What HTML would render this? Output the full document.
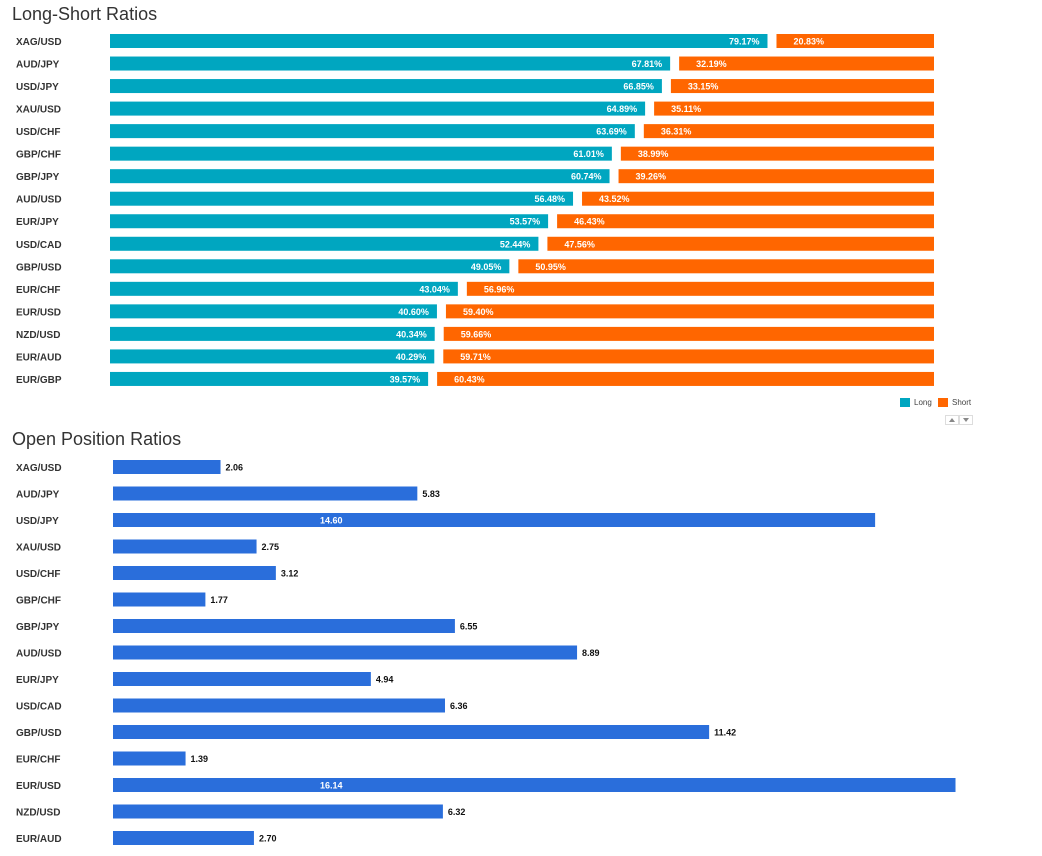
<!DOCTYPE html>
<html><head><meta charset="utf-8"><style>
body{margin:0;background:#fff;width:1042px;height:851px;overflow:hidden;font-family:"Liberation Sans",Arial,sans-serif}
svg text{font-family:"Liberation Sans",Arial,sans-serif}
</style></head><body>
<svg id="c" width="1042" height="851">
<text x="12" y="20" font-size="18" fill="#333">Long-Short Ratios</text>
<text x="12" y="445" font-size="18" fill="#333">Open Position Ratios</text>
<g>
<rect x="900" y="398" width="10" height="9" fill="#00a6c0"/>
<text x="914" y="405" font-size="8" fill="#444">Long</text>
<rect x="938" y="398" width="10" height="9" fill="#ff6600"/>
<text x="952" y="405" font-size="8" fill="#444">Short</text>
</g>
<g><rect x="945.5" y="415.5" width="13" height="9" fill="#fff" stroke="#ddd"/><path d="M949 422 L952 418 L955 422 Z" fill="#888"/></g>
<g><rect x="959.5" y="415.5" width="13" height="9" fill="#fff" stroke="#ddd"/><path d="M963 418 L966 422 L969 418 Z" fill="#888"/></g>
<g id="topg"></g><g id="botg"></g>
</svg>
<script>
const lsPairs=["XAG/USD","AUD/JPY","USD/JPY","XAU/USD","USD/CHF","GBP/CHF","GBP/JPY","AUD/USD","EUR/JPY","USD/CAD","GBP/USD","EUR/CHF","EUR/USD","NZD/USD","EUR/AUD","EUR/GBP"];
const longPct=[79.17,67.81,66.85,64.89,63.69,61.01,60.74,56.48,53.57,52.44,49.05,43.04,40.60,40.34,40.29,39.57];
const shortPct=[20.83,32.19,33.15,35.11,36.31,38.99,39.26,43.52,46.43,47.56,50.95,56.96,59.40,59.66,59.71,60.43];
const opPairs=["XAG/USD","AUD/JPY","USD/JPY","XAU/USD","USD/CHF","GBP/CHF","GBP/JPY","AUD/USD","EUR/JPY","USD/CAD","GBP/USD","EUR/CHF","EUR/USD","NZD/USD","EUR/AUD"];
const opVals=[2.06,5.83,14.60,2.75,3.12,1.77,6.55,8.89,4.94,6.36,11.42,1.39,16.14,6.32,2.70];
const NS="http://www.w3.org/2000/svg";
function mk(p,tag,a){const e=document.createElementNS(NS,tag);for(const k in a)e.setAttribute(k,a[k]);p.appendChild(e);return e;}
const gTop=document.getElementById('topg'),gBot=document.getElementById('botg');
const pctW=p=>p*8.57-21;
lsPairs.forEach((n,i)=>{
 const y=34+i*22.53;
 const t=mk(gTop,'text',{x:16,y:y+11,'font-size':10,'font-weight':'bold',fill:'#333'});t.textContent=n;
 
 
 const lw=pctW(longPct[i]);
 const r=mk(gTop,'rect',{x:110,y:y,width:lw,height:14,fill:'#00a6c0'});
 
 
 const lt=mk(gTop,'text',{x:110+lw-8,y:y+10.5,'font-size':9,'font-weight':'bold',fill:'#fff','text-anchor':'end'});lt.textContent=longPct[i].toFixed(2)+'%';
 
 
 const sw=pctW(shortPct[i]);
 const s=mk(gTop,'rect',{x:934-sw,y:y,width:sw,height:14,fill:'#ff6600'});
 
 
 const st=mk(gTop,'text',{x:934-sw+17,y:y+10.5,'font-size':9,'font-weight':'bold',fill:'#fff'});st.textContent=shortPct[i].toFixed(2)+'%';
 
 
});
const xs=v=>v*52.2;
opPairs.forEach((n,i)=>{
 const y=460+i*26.5;
 const t=mk(gBot,'text',{x:16,y:y+11,'font-size':10,'font-weight':'bold',fill:'#333'});t.textContent=n;
 
 
 const w=xs(opVals[i]);
 const r=mk(gBot,'rect',{x:113,y:y,width:w,height:14,fill:'#2a6edb'});
 
 
 const inside=opVals[i]>12;
 const vt=mk(gBot,'text',{x:inside?320:113+w+5,y:y+10.5,'font-size':9,'font-weight':'bold',fill:inside?'#fff':'#111'});vt.textContent=opVals[i].toFixed(2);
 
 
});
</script>
</body></html>
